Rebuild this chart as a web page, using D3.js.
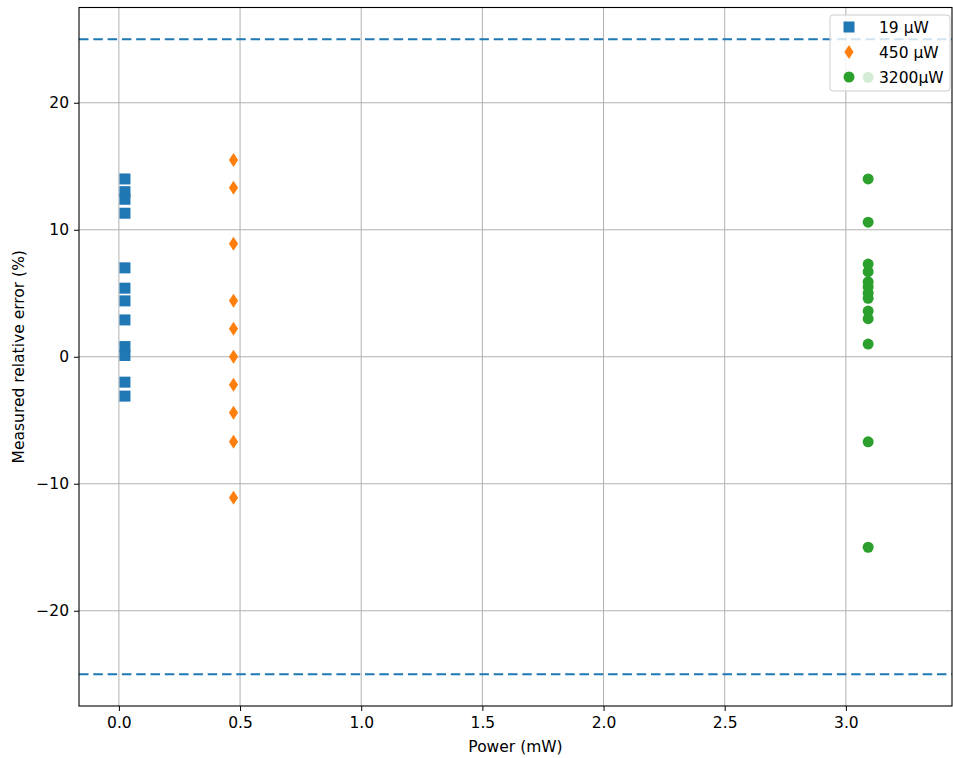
<!DOCTYPE html>
<html>
<head>
<meta charset="utf-8">
<script src="https://cdn.jsdelivr.net/npm/d3@7"></script>
<style>
  html, body { margin: 0; padding: 0; background: #fff; }
  svg { display: block; font-family: "DejaVu Sans", sans-serif; }
</style>
</head>
<body>
<svg id="chart" width="953" height="758"></svg>
<script>
// Measured relative error at three nominal power levels
const seriesNames = ["19 µW", "450 µW", "3200µW"];
const seriesPower = [0.025, 0.473, 3.092]; // mW
const errors19 = [14.0, 13.0, 12.4, 11.3, 7.0, 5.4, 4.4, 2.9, 0.8, 0.1, -2.0, -3.1];
const errors450 = [15.5, 13.3, 8.9, 4.4, 2.2, 0.0, -2.2, -4.4, -6.7, -11.1];
const errors3200 = [22.0, 14.0, 10.6, 7.3, 6.7, 5.9, 5.5, 5.0, 4.6, 3.6, 3.0, 1.0, -6.7, -15.0];
const limitLines = [25, -25];
const xTicks = [0.0, 0.5, 1.0, 1.5, 2.0, 2.5, 3.0];
const yTicks = [-20, -10, 0, 10, 20];

const colors = ["#1f77b4", "#ff7f0e", "#2ca02c"];
const shapes = ["square", "diamond", "circle"];
const seriesErrors = [errors19, errors450, errors3200];
const FONT = 15.5;

const svg = d3.select("#chart");
const W = 953, H = 758;
const margin = { left: 79, right: 1, top: 7.5, bottom: 52 };
const x0 = margin.left, x1 = W - margin.right;
const y0 = margin.top, y1 = H - margin.bottom;

const x = d3.scaleLinear().domain([-0.1646, 3.438]).range([x0, x1]);
const y = d3.scaleLinear().domain([-27.5, 27.5]).range([y1, y0]);

// Grid
const grid = svg.append("g").attr("stroke", "#b0b0b0").attr("stroke-width", 1);
grid.selectAll("line.gx").data(xTicks).join("line")
  .attr("x1", d => x(d)).attr("x2", d => x(d))
  .attr("y1", y0).attr("y2", y1);
grid.selectAll("line.gy").data(yTicks).join("line")
  .attr("x1", x0).attr("x2", x1)
  .attr("y1", d => y(d)).attr("y2", d => y(d));

// Tolerance limits
svg.append("g").selectAll("line").data(limitLines).join("line")
  .attr("x1", x0).attr("x2", x1)
  .attr("y1", d => y(d)).attr("y2", d => y(d))
  .attr("stroke", "#1f77b4").attr("stroke-width", 1.8)
  .attr("stroke-dasharray", "9.5,4.8");

// Marker drawing
function drawMarker(sel, shape, color) {
  if (shape === "square") {
    sel.append("rect").attr("x", -5.5).attr("y", -5.5).attr("width", 11).attr("height", 11)
      .attr("fill", color);
  } else if (shape === "diamond") {
    sel.append("path").attr("d", "M0,-7L4.6,0L0,7L-4.6,0Z").attr("fill", color);
  } else {
    sel.append("circle").attr("r", 5.5).attr("fill", color);
  }
}

// Points
seriesErrors.forEach((vals, i) => {
  const g = svg.append("g");
  g.selectAll("g").data(vals).join("g")
    .attr("transform", d => `translate(${x(seriesPower[i])},${y(d)})`)
    .each(function () { drawMarker(d3.select(this), shapes[i], colors[i]); });
});

// Frame
svg.append("rect").attr("x", x0).attr("y", y0).attr("width", x1 - x0).attr("height", y1 - y0)
  .attr("fill", "none").attr("stroke", "#000").attr("stroke-width", 1.1);

// Axes
const xAxis = d3.axisBottom(x).tickValues(xTicks).tickFormat(d3.format(".1f")).tickSizeOuter(0).tickSize(5).tickPadding(6);
const yAxis = d3.axisLeft(y).tickValues(yTicks).tickFormat(d => d < 0 ? "\u2212" + Math.abs(d) : String(d)).tickSizeOuter(0).tickSize(5).tickPadding(5);

const gx = svg.append("g").attr("transform", `translate(0,${y1})`).call(xAxis);
const gy = svg.append("g").attr("transform", `translate(${x0},0)`).call(yAxis);
[gx, gy].forEach(g => {
  g.select(".domain").remove();
  g.selectAll("text").attr("font-family", "DejaVu Sans").attr("font-size", FONT).attr("fill", "#000");
  g.selectAll("line").attr("stroke", "#000").attr("stroke-width", 1);
});

svg.append("text").attr("x", (x0 + x1) / 2).attr("y", 752)
  .attr("text-anchor", "middle").attr("font-size", FONT).text("Power (mW)");
svg.append("text").attr("transform", `translate(24,${(y0 + y1) / 2}) rotate(-90)`)
  .attr("text-anchor", "middle").attr("font-size", FONT).text("Measured relative error (%)");

// Legend
const lg = svg.append("g").attr("transform", "translate(830,15)");
lg.append("rect").attr("x", 0).attr("y", 0).attr("width", 120).attr("height", 76)
  .attr("rx", 3).attr("fill", "#fff").attr("fill-opacity", 0.8)
  .attr("stroke", "#cccccc").attr("stroke-width", 1);
seriesNames.forEach((name, i) => {
  const row = lg.append("g").attr("transform", `translate(19,${12 + i * 25})`);
  drawMarker(row, shapes[i], colors[i]);
  row.append("text").attr("x", 30).attr("y", 5.5).attr("font-size", FONT).attr("fill", "#000").text(name);
});
</script>
</body>
</html>
